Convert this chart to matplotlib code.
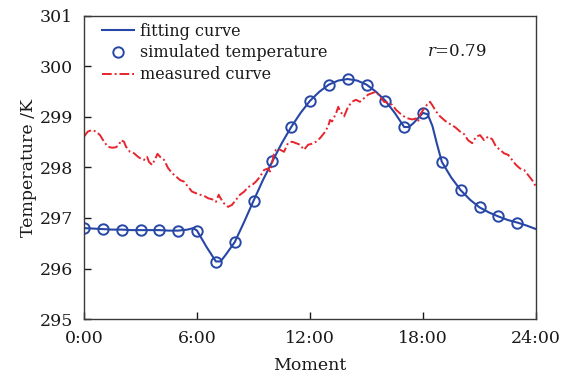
import matplotlib
matplotlib.use("Agg")
import matplotlib.pyplot as plt

# hourly simulated temperatures (K)
sim_hours = list(range(24))
sim_temp = [296.80, 296.78, 296.77, 296.76, 296.76, 296.75, 296.75, 296.13,
            296.52, 297.34, 298.12, 298.80, 299.32, 299.64, 299.75, 299.64,
            299.32, 298.80, 299.08, 298.11, 297.55, 297.21, 297.03, 296.91]

# fitting curve
fit_hours = [0, 0.5, 1, 1.5, 2, 2.5, 3, 3.5, 4, 4.5, 5, 5.5, 5.8, 6, 6.5, 7,
             7.25, 7.5, 8, 8.5, 9, 9.5, 10, 10.5, 11, 11.5, 12, 12.5, 13,
             13.5, 14, 14.5, 15, 15.5, 16, 16.5, 17, 17.25, 17.5, 17.75, 18,
             18.25, 18.5, 18.75, 19, 19.5, 20, 20.5, 21, 21.5, 22, 22.5, 23,
             23.5, 24]
fit_temp = [296.80, 296.79, 296.78, 296.77, 296.77, 296.76, 296.76, 296.76,
            296.76, 296.75, 296.75, 296.77, 296.80, 296.75, 296.43, 296.14,
            296.14, 296.26, 296.52, 296.92, 297.34, 297.75, 298.12, 298.48,
            298.80, 299.08, 299.32, 299.50, 299.64, 299.72, 299.75, 299.72,
            299.64, 299.50, 299.32, 299.08, 298.80, 298.80, 298.88, 298.98,
            299.08, 299.05, 298.82, 298.45, 298.11, 297.80, 297.55, 297.36,
            297.21, 297.11, 297.03, 296.96, 296.91, 296.85, 296.78]

# measured curve
meas_hours = [0, 0.2, 0.42, 0.64, 0.85, 1.06, 1.27, 1.49, 1.7, 1.86, 1.96,
              2.12, 2.23, 2.44, 2.66, 2.87, 3.03, 3.19, 3.35, 3.45, 3.61,
              3.77, 3.9, 4.04, 4.25, 4.46, 4.67, 4.89, 5.10, 5.31, 5.52,
              5.74, 5.95, 6.16, 6.37, 6.59, 6.80, 7.01, 7.15, 7.25, 7.43,
              7.65, 7.86, 8.07, 8.28, 8.50, 8.71, 8.92, 9.13, 9.35, 9.56,
              9.77, 9.88, 9.98, 10.09, 10.20, 10.41, 10.62, 10.83, 11.05,
              11.26, 11.47, 11.68, 11.90, 12.11, 12.32, 12.53, 12.75, 12.96,
              13.06, 13.17, 13.38, 13.50, 13.60, 13.81, 14.02, 14.23, 14.44,
              14.65, 14.87, 15.08, 15.29, 15.51, 15.72, 15.93, 16.14, 16.36,
              16.57, 16.78, 16.99, 17.21, 17.42, 17.63, 17.74, 17.84, 18.06,
              18.27, 18.37, 18.48, 18.69, 18.91, 19.12, 19.33, 19.54, 19.76,
              19.97, 20.18, 20.39, 20.61, 20.82, 21.03, 21.24, 21.45, 21.67,
              21.88, 22.09, 22.30, 22.52, 22.73, 22.94, 23.15, 23.37, 23.58,
              23.79, 24.0]
meas_temp = [298.61, 298.71, 298.74, 298.71, 298.64, 298.51, 298.41, 298.39,
             298.40, 298.45, 298.54, 298.51, 298.41, 298.31, 298.28, 298.21,
             298.17, 298.15, 298.21, 298.11, 298.05, 298.16, 298.27, 298.21,
             298.15, 297.99, 297.89, 297.82, 297.75, 297.72, 297.62, 297.52,
             297.49, 297.46, 297.44, 297.39, 297.37, 297.32, 297.46, 297.39,
             297.29, 297.22, 297.26, 297.36, 297.46, 297.52, 297.61, 297.65,
             297.72, 297.82, 297.95, 297.98, 297.92, 298.08, 298.28, 298.35,
             298.35, 298.31, 298.48, 298.51, 298.48, 298.45, 298.35, 298.45,
             298.47, 298.51, 298.58, 298.68, 298.81, 298.94, 298.91, 299.07,
             299.20, 299.11, 299.01, 299.20, 299.30, 299.34, 299.30, 299.37,
             299.44, 299.47, 299.50, 299.40, 299.30, 299.28, 299.24, 299.14,
             299.07, 299.01, 298.97, 298.95, 298.97, 298.91, 299.04, 299.17,
             299.27, 299.30, 299.24, 299.11, 299.01, 298.94, 298.88, 298.84,
             298.78, 298.71, 298.66, 298.54, 298.48, 298.61, 298.64, 298.54,
             298.61, 298.56, 298.41, 298.35, 298.28, 298.25, 298.15, 298.05,
             297.98, 297.95, 297.85, 297.75, 297.62]

x_ticks = [0, 6, 12, 18, 24]
x_labels = ["0:00", "6:00", "12:00", "18:00", "24:00"]
y_ticks = [295, 296, 297, 298, 299, 300, 301]

BLUE = "#2747a6"
RED = "#e8242c"

plt.rcParams["font.family"] = ["DejaVu Serif"]
plt.rcParams["mathtext.fontset"] = "dejavuserif"

fig = plt.figure(figsize=(5.65, 3.78), dpi=100)
ax = fig.add_axes([0.1487, 0.156, 0.80, 0.802])

ax.plot(fit_hours, fit_temp, color=BLUE, lw=1.5, label="fitting curve")
ax.plot(sim_hours, sim_temp, ls="none", marker="o", ms=7.5, mfc="none",
        mec=BLUE, mew=1.4, label="simulated temperature")
ax.plot(meas_hours, meas_temp, color=RED, lw=1.4, ls=(0, (5, 1.5, 1, 1.5)),
        label="measured curve")

ax.set_xlim(0, 24)
ax.set_ylim(295, 301)
ax.set_xticks(x_ticks)
ax.set_xticklabels(x_labels)
ax.set_yticks(y_ticks)
ax.tick_params(direction="in", length=5, width=1, labelsize=12.5,
               colors="#1a1a1a")
ax.tick_params(axis="x", pad=8)
ax.tick_params(axis="y", pad=8)
for s in ax.spines.values():
    s.set_color("#3a3a3a")
    s.set_linewidth(1.0)

ax.set_xlabel("Moment", fontsize=12.5, labelpad=7, color="#1a1a1a")
ax.set_ylabel("Temperature /K", fontsize=12.5, labelpad=2, color="#1a1a1a")

ax.legend(loc="upper left", bbox_to_anchor=(0.040, 0.978), frameon=False,
          fontsize=11.5, handlelength=2.0, handletextpad=0.4,
          labelspacing=0.30, borderaxespad=0, borderpad=0,
          labelcolor="#1a1a1a")
ax.text(0.759, 0.884, r"$r$=0.79", transform=ax.transAxes, fontsize=12,
        va="center", color="#1a1a1a")

fig.savefig("out.png", dpi=100)
